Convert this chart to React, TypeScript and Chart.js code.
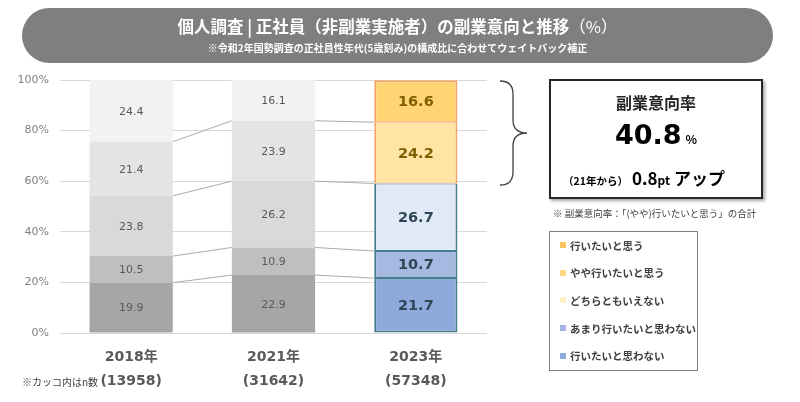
import React, { useEffect, useRef } from 'react';
import { Chart, registerables } from 'chart.js';

Chart.register(...registerables);

// ---- data ----
const years = ['2018年', '2021年', '2023年'];
const sampleSizes = ['(13958)', '(31642)', '(57348)'];
const seriesNames = ['行いたいと思わない', 'あまり行いたいと思わない', 'どちらともいえない', 'やや行いたいと思う', '行いたいと思う'];
const notWant = [19.9, 22.9, 21.7];
const ratherNot = [10.5, 10.9, 10.7];
const neutral = [23.8, 26.2, 26.7];
const somewhatWant = [21.4, 23.9, 24.2];
const want = [24.4, 16.1, 16.6];
const yTickLabels = ['0%', '20%', '40%', '60%', '80%', '100%'];
const legendOrder = ['行いたいと思う', 'やや行いたいと思う', 'どちらともいえない', 'あまり行いたいと思わない', '行いたいと思わない'];
const intentRate = '40.8';
const intentDelta = '0.8';

// ---- styles ----
const seriesValues = [notWant, ratherNot, neutral, somewhatWant, want];
const grayFill = ['#a6a6a6', '#bfbfbf', '#d9d9d9', '#e4e4e4', '#f2f2f2'];
const highlightFill = ['#8eaadc', '#a5b9e1', '#e2e9f6', '#ffe4a3', '#ffd573'];
const highlightBorder = ['#4a7d8c', '#4a7d8c', '#4a7d8c', '#f5a56a', '#f5a56a'];
const highlightText = ['#2e4756', '#2e4756', '#2e4756', '#7f5f00', '#7f5f00'];
const legendColors = ['#fdc35c', '#fed77f', '#fff0c8', '#a3b5de', '#8ea9db'];
const HI = 2;
const JP = "'Noto Sans CJK JP', sans-serif";
const NUM = "'DejaVu Sans', 'Noto Sans CJK JP', sans-serif";

const connectorPlugin = {
  id: 'connectors',
  beforeDatasetsDraw(chart: any) {
    const ctx = chart.ctx;
    const n = chart.data.datasets.length;
    ctx.save();
    ctx.strokeStyle = '#ababab';
    ctx.lineWidth = 1;
    for (let k = 0; k < n - 1; k++) {
      const meta = chart.getDatasetMeta(k);
      for (let i = 0; i < meta.data.length - 1; i++) {
        const a = meta.data[i].getProps(['x', 'y', 'width'], true);
        const b = meta.data[i + 1].getProps(['x', 'y', 'width'], true);
        ctx.beginPath();
        ctx.moveTo(a.x + a.width / 2, a.y);
        ctx.lineTo(b.x - b.width / 2, b.y);
        ctx.stroke();
      }
    }
    ctx.restore();
  },
};

const valueLabelPlugin = {
  id: 'valueLabels',
  afterDatasetsDraw(chart: any) {
    const ctx = chart.ctx;
    ctx.save();
    ctx.textAlign = 'center';
    ctx.textBaseline = 'middle';
    chart.data.datasets.forEach((ds: any, k: number) => {
      const meta = chart.getDatasetMeta(k);
      meta.data.forEach((el: any, i: number) => {
        const p = el.getProps(['x', 'y', 'base'], true);
        const v = ds.data[i] as number;
        if (i === HI) {
          ctx.font = `bold 14.5px ${NUM}`;
          ctx.fillStyle = highlightText[k];
        } else {
          ctx.font = `11px ${NUM}`;
          ctx.fillStyle = '#595959';
        }
        ctx.fillText(v.toFixed(1), p.x, (p.y + p.base) / 2 + 1);
      });
    });
    ctx.restore();
  },
};

export default function App() {
  const canvasRef = useRef<HTMLCanvasElement | null>(null);

  useEffect(() => {
    if (!canvasRef.current) return;
    const chart = new Chart(canvasRef.current, {
      type: 'bar',
      data: {
        labels: years.map((y, i) => [y, sampleSizes[i]]),
        datasets: seriesValues.map((vals, k) => ({
          label: seriesNames[k],
          data: vals,
          backgroundColor: vals.map((_, i) => (i === HI ? highlightFill[k] : grayFill[k])),
          borderColor: vals.map((_, i) => (i === HI ? highlightBorder[k] : 'rgba(0,0,0,0)')),
          borderWidth: (c: any) =>
            c.dataIndex === HI
              ? { left: 2, right: 2, top: k === seriesValues.length - 1 ? 2 : 1, bottom: k === 0 ? 2 : 1 }
              : 0,
          borderSkipped: false,
          barPercentage: 0.585,
          categoryPercentage: 1,
        })),
      },
      options: {
        animation: false,
        responsive: false,
        maintainAspectRatio: false,
        layout: { padding: { left: 0, right: 313, top: 80, bottom: 0 } },
        plugins: { legend: { display: false }, tooltip: { enabled: false }, title: { display: false } },
        scales: {
          x: {
            stacked: true,
            grid: { display: false, drawTicks: false },
            border: { display: false },
            ticks: {
              color: '#595959',
              font: { family: NUM, size: 14, weight: 'bold', lineHeight: 1.75 },
              padding: 12,
              maxRotation: 0,
            },
            afterFit: (s: any) => {
              s.height = 69;
            },
          },
          y: {
            stacked: true,
            min: 0,
            max: 100,
            grid: { color: '#d9d9d9', drawTicks: false },
            border: { display: false },
            ticks: {
              stepSize: 20,
              color: '#7f7f7f',
              font: { family: NUM, size: 11 },
              padding: 11,
              callback: (v: any) => yTickLabels[Math.round(Number(v) / 20)],
            },
            afterFit: (s: any) => {
              s.width = 60;
            },
          },
        },
      },
      plugins: [connectorPlugin, valueLabelPlugin],
    } as any);
    return () => chart.destroy();
  }, []);

  const abs = (o: React.CSSProperties): React.CSSProperties => ({ position: 'absolute', ...o });

  return (
    <div style={{ position: 'fixed', left: 0, top: 0, width: 800, height: 402, background: '#fff', overflow: 'hidden', fontFamily: JP }}>
      <canvas ref={canvasRef} width={800} height={402} style={{ position: 'absolute', left: 0, top: 0, width: 800, height: 402, display: 'block' }} />

      {/* title banner */}
      <div style={abs({ left: 22, top: 8, width: 751, height: 55, borderRadius: 28, background: '#7f7f7f' })} />
      <div style={abs({ left: 22, top: 15, width: 751, textAlign: 'center', color: '#fff', fontSize: 16.5, fontWeight: 'bold', lineHeight: '22px', whiteSpace: 'nowrap' })}>
        個人調査 | 正社員（非副業実施者）の副業意向と推移<span style={{ fontWeight: 'normal' }}>（%）</span>
      </div>
      <div style={abs({ left: 22, top: 41, width: 751, textAlign: 'center', color: '#fff', fontSize: 10, fontWeight: 'bold', lineHeight: '14px', whiteSpace: 'nowrap' })}>
        ※令和2年国勢調査の正社員性年代(5歳刻み)の構成比に合わせてウェイトバック補正
      </div>

      {/* brace */}
      <svg width={800} height={402} style={abs({ left: 0, top: 0, pointerEvents: 'none' })}>
        <path d="M 500 81 Q 513 81 513 94 L 513 120 Q 513 133 527 133 Q 513 133 513 146 L 513 172 Q 513 185 500 185" fill="none" stroke="#404040" strokeWidth={1.3} />
      </svg>

      {/* summary box */}
      <div style={abs({ left: 549, top: 79, width: 210, height: 116, border: '2px solid #262626', boxShadow: '2px 2px 3px rgba(0,0,0,0.35)', background: '#fff' })} />
      <div style={abs({ left: 549, top: 91, width: 214, textAlign: 'center', fontSize: 16, fontWeight: 'bold', color: '#262626', lineHeight: '22px' })}>副業意向率</div>
      <div style={abs({ left: 549, top: 117, width: 214, textAlign: 'center', color: '#000', whiteSpace: 'nowrap', lineHeight: '36px' })}>
        <span style={{ fontFamily: NUM, fontSize: 27, fontWeight: 'bold' }}>{intentRate}</span>
        <span style={{ fontSize: 12, fontWeight: 'bold', marginLeft: 4 }}>%</span>
      </div>
      <div style={abs({ left: 563, top: 166, whiteSpace: 'nowrap', color: '#000', lineHeight: '24px', fontWeight: 'bold' })}>
        <span style={{ fontSize: 10.5 }}>（21年から）</span>
        <span style={{ fontSize: 17, marginLeft: 4 }}>{intentDelta}</span>
        <span style={{ fontSize: 12 }}>pt</span>
        <span style={{ fontSize: 17, marginLeft: 4 }}>アップ</span>
      </div>
      <div style={abs({ left: 553, top: 206, fontSize: 9.5, color: '#404040', whiteSpace: 'nowrap', lineHeight: '14px' })}>
        ※ 副業意向率：「(やや)行いたいと思う」の合計
      </div>

      {/* legend */}
      <div style={abs({ left: 549, top: 231, width: 147, height: 138, border: '1.5px solid #7f7f7f', background: '#fff' })} />
      {legendOrder.map((name, i) => (
        <div key={name} style={abs({ left: 560, top: 237 + i * 27.7, height: 16, display: 'flex', alignItems: 'center', whiteSpace: 'nowrap' })}>
          <span style={{ width: 6, height: 6, background: legendColors[i], display: 'inline-block', marginRight: 4 }} />
          <span style={{ fontSize: 10.5, fontWeight: 'bold', color: '#404040' }}>{name}</span>
        </div>
      ))}

      {/* n note */}
      <div style={abs({ left: 22, top: 375, fontSize: 10, color: '#404040', whiteSpace: 'nowrap', lineHeight: '14px' })}>※カッコ内はn数</div>
    </div>
  );
}
